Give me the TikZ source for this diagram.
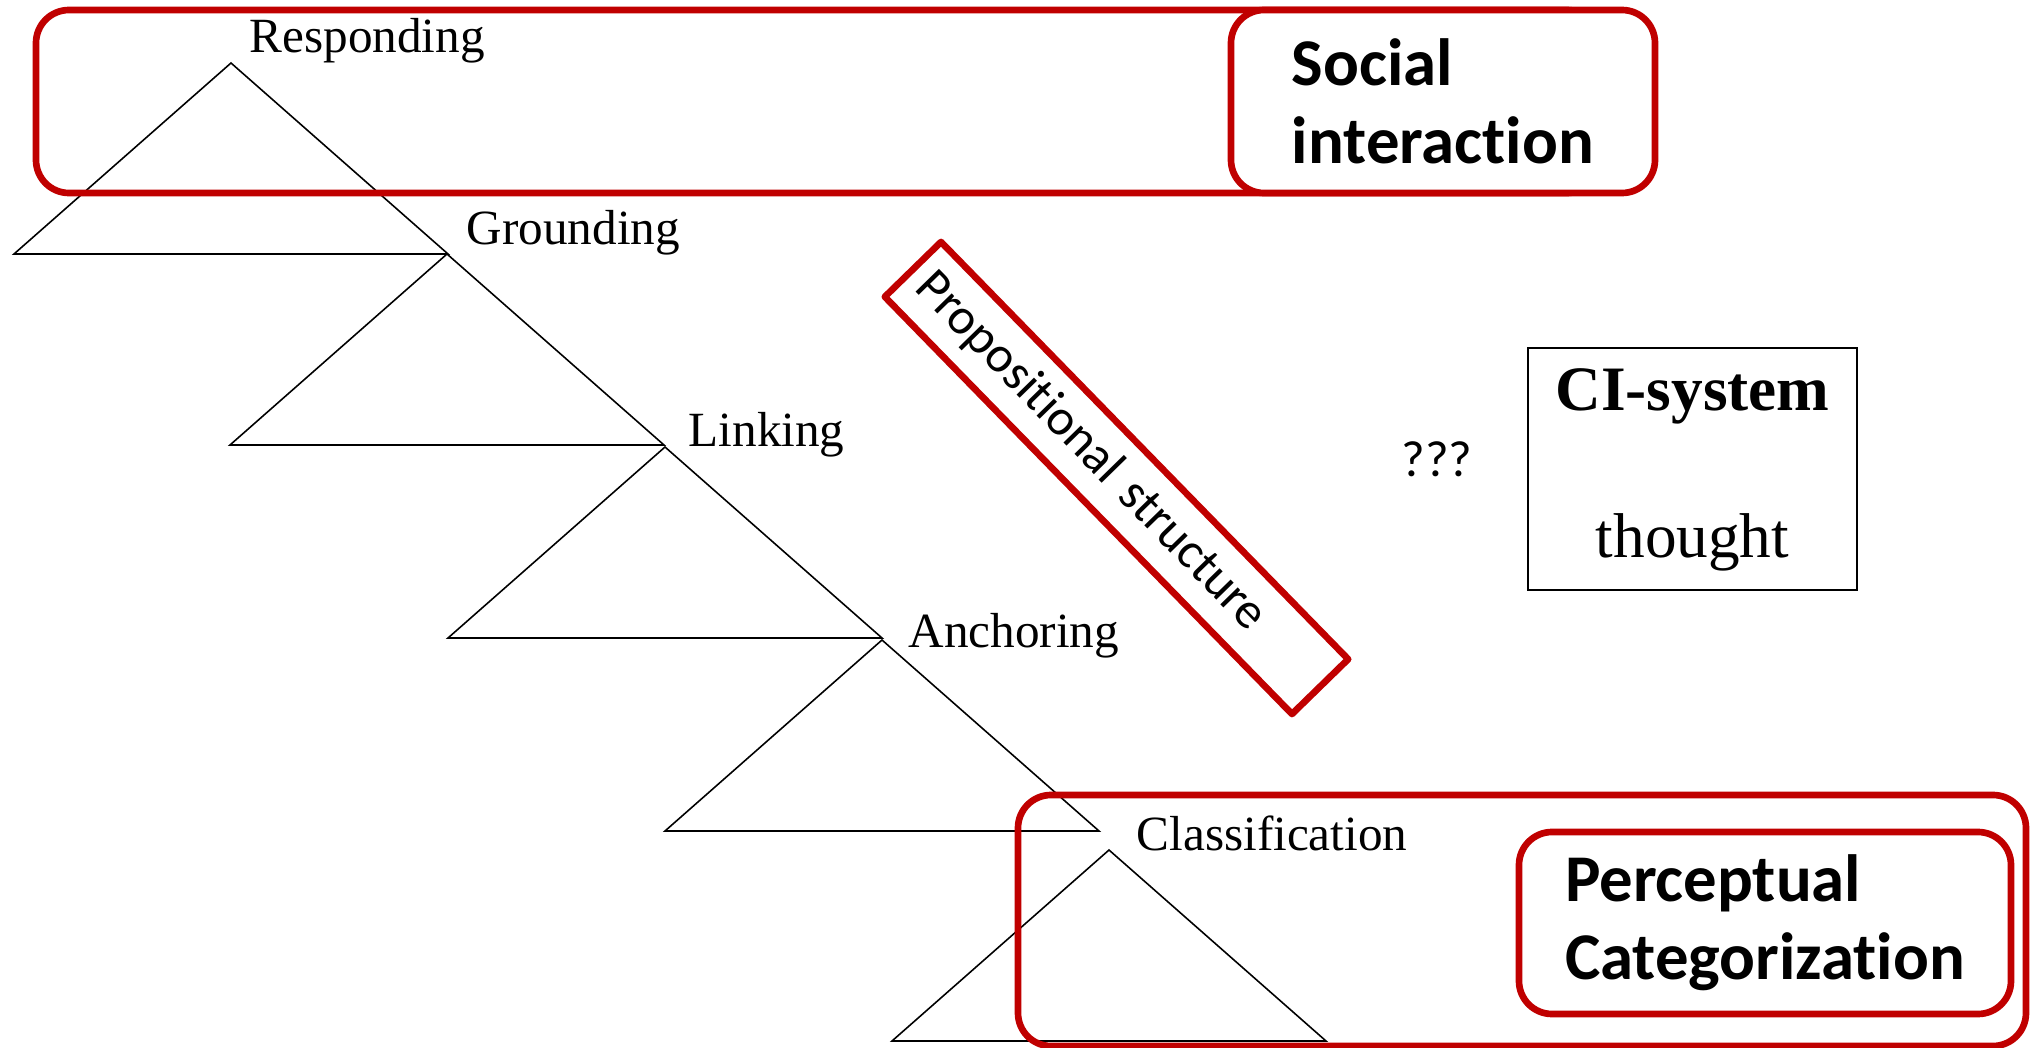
\documentclass[tikz,border=0pt]{standalone}
\usepackage{fontspec}
\setmainfont{Liberation Serif}
\newfontfamily\calibri[Ligatures=NoCommon]{Carlito}
\usepackage{tikz}
\definecolor{rot}{HTML}{C00000}
\tikzset{
  dreieck/.style={black,line width=0.45pt,line join=miter},
  beschr/.style={font=\fontsize{14}{16}\selectfont,inner sep=0pt,anchor=base west},
  rahmen/.style={draw=rot,line width=1.9pt,rounded corners=0.33cm},
  feld/.style={rahmen,fill=white,align=left,inner sep=0pt,
    font=\calibri\bfseries\fontsize{19}{22.3}\selectfont},
}

\begin{document}
\begin{tikzpicture}
  \useasboundingbox (0,0) rectangle (20.43,-10.48);
  \foreach \x/\y in {2.31/-0.63,4.47/-2.54,6.65/-4.47,8.82/-6.40,11.09/-8.50}
    \draw[dreieck] (\x,\y) -- ++(-2.17,-1.91) -- ++(4.34,0) -- cycle;
  \node[beschr] (respond) at (2.49,-0.53) {Responding};
  \node[beschr] (ground) at (4.66,-2.45) {Grounding};
  \node[beschr] (link) at (6.88,-4.46) {Linking};
  \node[beschr] (anchor) at (9.08,-6.47) {Anchoring};
  \node[beschr] (classif) at (11.36,-8.50) {Classification};
  \draw[rahmen] (0.36,-0.10) rectangle (16.0,-1.93);
  \node[feld,minimum width=4.24cm,minimum height=1.83cm] (sozial) at (14.43,-1.015) {Social\\interaction};
  \draw[rahmen] (10.18,-7.95) rectangle (20.26,-10.46);
  \node[feld,minimum width=4.92cm,minimum height=1.82cm] (perzept) at (17.65,-9.23) {Perceptual\\Categorization};
  \node[draw=rot,line width=1.9pt,line join=round,rotate=-45.7,
    minimum width=5.83cm,minimum height=0.785cm,inner xsep=0.15cm,
    text width=5.53cm,align=left,font=\calibri\fontsize{14.5}{16}\selectfont]
    (propos) at (11.165,-4.78) {Propositional structure};
  \node[font=\calibri\fontsize{14.5}{16}\selectfont] (fragen) at (14.37,-4.59) {???};
  \node[draw,line width=0.6pt,minimum width=3.29cm,minimum height=2.42cm] (ci) at (16.925,-4.69) {};
  \node[font=\bfseries\fontsize{18}{20}\selectfont] (cititel) at ([yshift=-0.49cm]ci.north) {CI-system};
  \node[font=\fontsize{18}{20}\selectfont] (gedanke) at ([yshift=0.49cm]ci.south) {thought};
\end{tikzpicture}
\end{document}
